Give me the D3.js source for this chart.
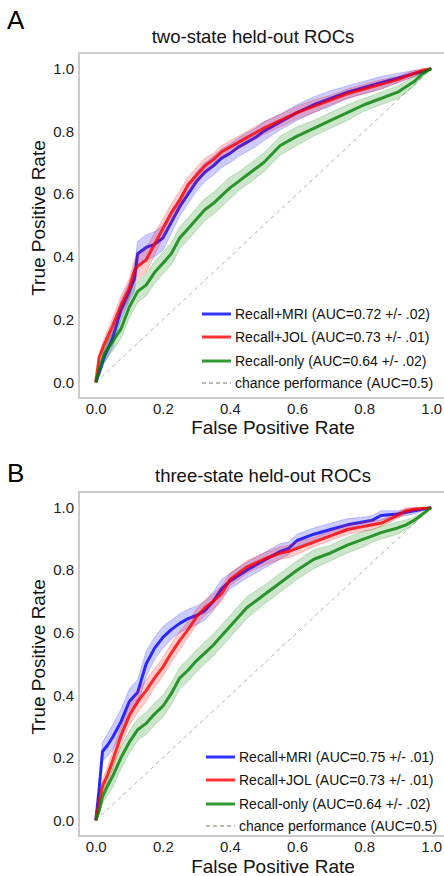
<!DOCTYPE html>
<html>
<head>
<meta charset="utf-8">
<script src="https://cdn.jsdelivr.net/npm/d3@7"></script>
<style>
  html, body { margin: 0; padding: 0; background: #fff; }
  svg { display: block; font-family: "Liberation Sans", Arial, Helvetica, sans-serif; }
</style>
</head>
<body>
<svg id="chart" width="444" height="876"></svg>
<script>
// ---------------- DATA ----------------
const tickValues = [0.0, 0.2, 0.4, 0.6, 0.8, 1.0];
const seriesNames = ["Recall+MRI", "Recall+JOL", "Recall-only"];
const chanceLabel = "chance performance (AUC=0.5)";

// Panel A: two-state
const titleA = "two-state held-out ROCs";
const aucA = ["(AUC=0.72 +/- .02)", "(AUC=0.73 +/- .01)", "(AUC=0.64 +/- .02)"];
const fprA = [0, 0.01, 0.025, 0.05, 0.075, 0.1, 0.115, 0.125, 0.15, 0.175, 0.2, 0.225, 0.25, 0.275, 0.3, 0.325, 0.35, 0.375, 0.4, 0.425, 0.45, 0.475, 0.5, 0.55, 0.6, 0.65, 0.7, 0.75, 0.8, 0.85, 0.9, 0.95, 0.975, 1.0];
const tprA_mri  = [0, 0.03, 0.08, 0.14, 0.23, 0.29, 0.33, 0.41, 0.43, 0.44, 0.46, 0.51, 0.56, 0.60, 0.64, 0.67, 0.69, 0.715, 0.73, 0.75, 0.765, 0.78, 0.80, 0.83, 0.86, 0.885, 0.905, 0.925, 0.94, 0.955, 0.97, 0.985, 0.99, 1.0];
const tprA_jol  = [0, 0.08, 0.12, 0.18, 0.245, 0.30, 0.355, 0.37, 0.39, 0.44, 0.49, 0.54, 0.58, 0.63, 0.66, 0.69, 0.71, 0.735, 0.75, 0.765, 0.78, 0.795, 0.81, 0.835, 0.86, 0.88, 0.90, 0.92, 0.935, 0.95, 0.965, 0.985, 0.995, 1.0];
const tprA_rec  = [0, 0.04, 0.09, 0.13, 0.17, 0.24, 0.27, 0.29, 0.31, 0.35, 0.38, 0.41, 0.46, 0.49, 0.52, 0.55, 0.57, 0.595, 0.62, 0.64, 0.66, 0.68, 0.70, 0.755, 0.785, 0.81, 0.835, 0.86, 0.885, 0.905, 0.925, 0.96, 0.985, 1.0];
const errA_mri  = [0, 0.01, 0.02, 0.03, 0.03, 0.03, 0.04, 0.04, 0.04, 0.04, 0.04, 0.035, 0.03, 0.03, 0.03, 0.03, 0.03, 0.03, 0.03, 0.03, 0.03, 0.03, 0.03, 0.025, 0.025, 0.025, 0.025, 0.02, 0.02, 0.02, 0.015, 0.01, 0.005, 0];
const errA_jol  = [0, 0.01, 0.02, 0.025, 0.03, 0.03, 0.035, 0.04, 0.04, 0.035, 0.03, 0.03, 0.03, 0.025, 0.025, 0.025, 0.02, 0.02, 0.02, 0.02, 0.02, 0.02, 0.02, 0.02, 0.02, 0.02, 0.015, 0.015, 0.015, 0.015, 0.01, 0.01, 0.005, 0];
const errA_rec  = [0, 0.01, 0.025, 0.03, 0.03, 0.035, 0.035, 0.035, 0.035, 0.035, 0.035, 0.035, 0.035, 0.035, 0.035, 0.035, 0.035, 0.035, 0.035, 0.03, 0.03, 0.03, 0.03, 0.03, 0.03, 0.025, 0.025, 0.025, 0.02, 0.02, 0.02, 0.015, 0.01, 0];

// Panel B: three-state
const titleB = "three-state held-out ROCs";
const aucB = ["(AUC=0.75 +/- .01)", "(AUC=0.73 +/- .01)", "(AUC=0.64 +/- .02)"];
const fprB = [0, 0.01, 0.02, 0.035, 0.05, 0.075, 0.1, 0.125, 0.15, 0.175, 0.2, 0.225, 0.25, 0.275, 0.3, 0.325, 0.35, 0.375, 0.4, 0.45, 0.5, 0.55, 0.575, 0.6, 0.65, 0.7, 0.75, 0.8, 0.825, 0.85, 0.9, 0.925, 0.95, 1.0];
const tprB_mri  = [0, 0.10, 0.22, 0.24, 0.265, 0.315, 0.38, 0.41, 0.50, 0.55, 0.585, 0.61, 0.63, 0.645, 0.655, 0.67, 0.70, 0.74, 0.765, 0.80, 0.83, 0.86, 0.87, 0.895, 0.915, 0.93, 0.945, 0.955, 0.96, 0.975, 0.98, 0.985, 0.99, 1.0];
const tprB_jol  = [0, 0.06, 0.11, 0.145, 0.19, 0.27, 0.335, 0.38, 0.415, 0.455, 0.49, 0.535, 0.575, 0.61, 0.65, 0.68, 0.70, 0.725, 0.77, 0.81, 0.835, 0.855, 0.86, 0.87, 0.89, 0.91, 0.93, 0.94, 0.945, 0.95, 0.975, 0.99, 0.995, 1.0];
const tprB_rec  = [0, 0.03, 0.075, 0.11, 0.14, 0.20, 0.25, 0.29, 0.31, 0.34, 0.365, 0.405, 0.455, 0.48, 0.51, 0.535, 0.56, 0.59, 0.62, 0.68, 0.72, 0.76, 0.78, 0.80, 0.835, 0.855, 0.88, 0.90, 0.91, 0.92, 0.935, 0.945, 0.96, 1.0];
const errB_mri  = [0, 0.02, 0.03, 0.035, 0.04, 0.04, 0.04, 0.04, 0.04, 0.035, 0.035, 0.03, 0.03, 0.03, 0.03, 0.03, 0.03, 0.03, 0.025, 0.025, 0.025, 0.025, 0.02, 0.02, 0.02, 0.02, 0.02, 0.015, 0.015, 0.015, 0.01, 0.01, 0.01, 0];
const errB_jol  = [0, 0.01, 0.02, 0.025, 0.03, 0.03, 0.03, 0.035, 0.035, 0.03, 0.03, 0.03, 0.03, 0.025, 0.025, 0.025, 0.025, 0.025, 0.02, 0.02, 0.02, 0.02, 0.02, 0.02, 0.015, 0.015, 0.015, 0.015, 0.015, 0.01, 0.01, 0.01, 0.005, 0];
const errB_rec  = [0, 0.01, 0.02, 0.03, 0.035, 0.035, 0.035, 0.035, 0.035, 0.035, 0.035, 0.035, 0.035, 0.035, 0.035, 0.035, 0.035, 0.035, 0.035, 0.035, 0.03, 0.03, 0.03, 0.03, 0.03, 0.025, 0.025, 0.025, 0.02, 0.02, 0.02, 0.015, 0.01, 0];

const colors = ["#0000ff", "#ff0000", "#008000"];

// ---------------- DRAW ----------------
const svg = d3.select("#chart");
const FONT = '"Liberation Sans", Arial, Helvetica, sans-serif';

function panel(cfg) {
  const x = d3.scaleLinear().domain([-0.05, 1.05]).range([cfg.left, cfg.right]);
  const y = d3.scaleLinear().domain([-0.05, 1.05]).range([cfg.bottom, cfg.top]);
  const g = svg.append("g");

  g.append("text").attr("x", 7).attr("y", cfg.letterY).attr("font-size", 26)
    .attr("fill", "#000").text(cfg.letter);
  g.append("text").attr("x", cfg.titleX).attr("y", cfg.titleY).attr("text-anchor", "middle")
    .attr("font-size", 18.5).attr("fill", "#111").text(cfg.title);

  const clipId = "clip" + cfg.letter;
  svg.append("clipPath").attr("id", clipId).append("rect")
    .attr("x", cfg.left).attr("y", cfg.top).attr("width", cfg.right - cfg.left).attr("height", cfg.bottom - cfg.top);
  const plot = g.append("g").attr("clip-path", `url(#${clipId})`);

  plot.append("line")
    .attr("x1", x(0)).attr("y1", y(0)).attr("x2", x(1)).attr("y2", y(1))
    .attr("stroke", "#b5b0aa").attr("stroke-width", 1).attr("stroke-dasharray", "4,3.5");

  cfg.series.forEach((s, i) => {
    const pts = cfg.fpr.map((f, k) => ({ x: f, y: s.tpr[k], e: s.err[k] }));
    const area = d3.area().x(d => x(d.x)).y0(d => y(Math.max(0, d.y - d.e))).y1(d => y(Math.min(1, d.y + d.e)));
    plot.append("path").datum(pts).attr("d", area)
      .attr("fill", colors[i]).attr("fill-opacity", 0.2)
      .attr("stroke", colors[i]).attr("stroke-opacity", 0.2).attr("stroke-width", 1);
    const line = d3.line().x(d => x(d.x)).y(d => y(d.y));
    plot.append("path").datum(pts).attr("d", line)
      .attr("fill", "none").attr("stroke", colors[i]).attr("stroke-opacity", 0.8)
      .attr("stroke-width", 3).attr("stroke-linejoin", "round");
  });

  g.append("rect").attr("x", cfg.left).attr("y", cfg.top)
    .attr("width", cfg.right - cfg.left).attr("height", cfg.bottom - cfg.top)
    .attr("fill", "none").attr("stroke", "#cccccc").attr("stroke-width", 2);

  const fmt = d3.format(".1f");
  const ax = g.append("g").attr("transform", `translate(0,${cfg.bottom})`)
    .call(d3.axisBottom(x).tickValues(tickValues).tickFormat(fmt).tickSize(0).tickPadding(5));
  const ay = g.append("g").attr("transform", `translate(${cfg.left},0)`)
    .call(d3.axisLeft(y).tickValues(tickValues).tickFormat(fmt).tickSize(0).tickPadding(5));
  [ax, ay].forEach(a => {
    a.select(".domain").remove();
    a.selectAll("text").attr("font-size", 15).attr("font-family", FONT).attr("fill", "#222");
  });

  g.append("text").attr("x", cfg.xlabX).attr("y", cfg.xlabY).attr("text-anchor", "middle")
    .attr("font-size", 19).attr("fill", "#111").text("False Positive Rate");
  g.append("text").attr("transform", `translate(45,${cfg.ylabY}) rotate(-90)`)
    .attr("text-anchor", "middle").attr("font-size", 19).attr("fill", "#111").text("True Positive Rate");

  const lg = g.append("g");
  cfg.series.forEach((s, i) => {
    const ly = cfg.legY[i];
    lg.append("line").attr("x1", cfg.legX).attr("x2", cfg.legX + 29).attr("y1", ly).attr("y2", ly)
      .attr("stroke", colors[i]).attr("stroke-opacity", 0.8).attr("stroke-width", 3);
    lg.append("text").attr("x", cfg.legX + 33).attr("y", ly + 5).attr("font-size", 14)
      .attr("fill", "#111").text(seriesNames[i] + " " + s.auc);
  });
  const ly = cfg.legY[3];
  lg.append("line").attr("x1", cfg.legX).attr("x2", cfg.legX + 29).attr("y1", ly).attr("y2", ly)
    .attr("stroke", "#a8a297").attr("stroke-width", 1.3).attr("stroke-dasharray", "4,3");
  lg.append("text").attr("x", cfg.legX + 33).attr("y", ly + 5).attr("font-size", 14)
    .attr("fill", "#111").text(chanceLabel);
}

panel({
  letter: "A", letterY: 29, title: titleA, titleX: 253, titleY: 43,
  left: 79, right: 448, top: 53, bottom: 398,
  xlabX: 273, xlabY: 434, ylabY: 218,
  fpr: fprA,
  series: [
    { tpr: tprA_mri, err: errA_mri, auc: aucA[0] },
    { tpr: tprA_jol, err: errA_jol, auc: aucA[1] },
    { tpr: tprA_rec, err: errA_rec, auc: aucA[2] }
  ],
  legX: 202, legY: [314, 337, 361, 383]
});

panel({
  letter: "B", letterY: 482, title: titleB, titleX: 263, titleY: 482,
  left: 79, right: 448, top: 492, bottom: 836,
  xlabX: 273, xlabY: 873, ylabY: 657,
  fpr: fprB,
  series: [
    { tpr: tprB_mri, err: errB_mri, auc: aucB[0] },
    { tpr: tprB_jol, err: errB_jol, auc: aucB[1] },
    { tpr: tprB_rec, err: errB_rec, auc: aucB[2] }
  ],
  legX: 206, legY: [757, 780, 804, 826]
});
</script>
</body>
</html>
